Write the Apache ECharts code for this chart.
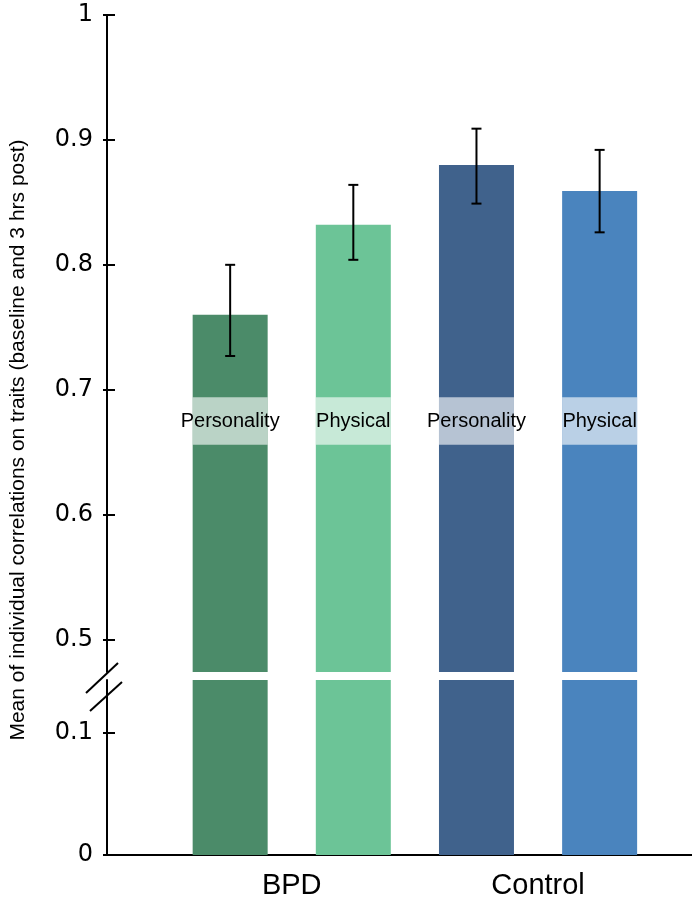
<!DOCTYPE html>
<html><head><meta charset="utf-8">
<script src="https://cdn.jsdelivr.net/npm/echarts@6/dist/echarts.min.js"></script>
<style>html,body{margin:0;padding:0;background:#fff}#c{width:692px;height:906px}</style>
</head><body><div id="c"></div>
<script>
const barNames = ['BPD Personality', 'BPD Physical', 'Control Personality', 'Control Physical'];
const barLabels = ['Personality', 'Physical', 'Personality', 'Physical'];
const groupLabels = ['BPD', 'Control'];
const means = [0.760, 0.832, 0.880, 0.859];
const errLow = [0.727, 0.804, 0.849, 0.826];
const errHigh = [0.800, 0.864, 0.909, 0.892];
const upperTicks = [0.5, 0.6, 0.7, 0.8, 0.9, 1];
const lowerTicks = [0, 0.1];
const barColors = ['#4b8b69', '#6cc497', '#40628c', '#4a84be'];
const bandRange = [0.656, 0.694];

const chart = echarts.init(document.getElementById('c'), null, {renderer: 'canvas'});
const xPos = barNames.map((_, i) => i + 1);
const groupPos = [1.5, 3.5];
const barData = means.map((v, i) => ({value: [xPos[i], v], itemStyle: {color: barColors[i]}}));
const fmtY = v => String(Math.round(v * 10) / 10);
const axisLineStyle = {color: '#000', width: 2};

const xCommon = {type: 'value', min: 0, max: 4.75, splitLine: {show: false}, axisTick: {show: false}};
const yLabel = {formatter: fmtY, color: '#000', fontSize: 24, fontFamily: 'DejaVu Sans', margin: 14};

function yAxisPair(grid, min, max, ticks) {
  return [
    {gridIndex: grid, type: 'value', min: min, max: max, splitLine: {show: false},
      axisLine: {show: true, lineStyle: axisLineStyle},
      axisTick: {show: true, inside: true, length: 8, customValues: ticks, lineStyle: axisLineStyle},
      axisLabel: Object.assign({customValues: ticks}, yLabel)},
    {gridIndex: grid, type: 'value', min: min, max: max, position: 'left', splitLine: {show: false},
      axisLine: {show: false},
      axisTick: {show: true, inside: false, length: 4, customValues: ticks, lineStyle: axisLineStyle},
      axisLabel: {show: false}}
  ];
}

chart.setOption({
  animation: false,
  grid: [
    {left: 107, right: 0, top: 15, height: 657},
    {left: 107, right: 0, top: 680, height: 175}
  ],
  xAxis: [
    Object.assign({gridIndex: 0, axisLine: {show: false}, axisLabel: {show: false}}, xCommon),
    Object.assign({gridIndex: 1, axisLine: {show: true, lineStyle: axisLineStyle},
      axisLabel: {customValues: groupPos, margin: 16, color: '#000', fontSize: 29, fontFamily: 'Liberation Sans, Arial',
        formatter: v => { const k = groupPos.findIndex(p => Math.abs(p - v) < 1e-6); return k >= 0 ? groupLabels[k] : ''; }}}, xCommon)
  ],
  yAxis: yAxisPair(0, 0.474, 1, upperTicks).concat(yAxisPair(1, 0, 0.1434, lowerTicks)),
  series: [
    {type: 'bar', xAxisIndex: 0, yAxisIndex: 0, barWidth: 75, clip: true, data: barData, z: 2},
    {type: 'bar', xAxisIndex: 1, yAxisIndex: 2, barWidth: 75, clip: true, data: barData, z: 2},
    {type: 'custom', xAxisIndex: 0, yAxisIndex: 0, z: 3,
      data: barLabels.map((t, i) => [xPos[i], bandRange[0], bandRange[1]]),
      renderItem: (params, api) => {
        const p1 = api.coord([api.value(0), api.value(2)]);
        const p0 = api.coord([api.value(0), api.value(1)]);
        const w = 75;
        return {type: 'group', children: [
          {type: 'rect', shape: {x: p1[0] - w / 2, y: p1[1], width: w, height: p0[1] - p1[1]},
            style: {fill: 'rgba(255,255,255,0.62)'}},
          {type: 'text', x: p1[0], y: (p0[1] + p1[1]) / 2 + 1,
            style: {text: barLabels[params.dataIndex], fill: '#000', font: '20px "Liberation Sans", Arial', align: 'center', verticalAlign: 'middle'}}
        ]};
      }},
    {type: 'custom', xAxisIndex: 0, yAxisIndex: 0, z: 4,
      data: means.map((m, i) => [xPos[i], errLow[i], errHigh[i]]),
      renderItem: (params, api) => {
        const lo = api.coord([api.value(0), api.value(1)]);
        const hi = api.coord([api.value(0), api.value(2)]);
        const cw = 5;
        const st = {stroke: '#000', lineWidth: 2};
        return {type: 'group', children: [
          {type: 'line', shape: {x1: lo[0], y1: lo[1], x2: hi[0], y2: hi[1]}, style: st},
          {type: 'line', shape: {x1: hi[0] - cw, y1: hi[1], x2: hi[0] + cw, y2: hi[1]}, style: st},
          {type: 'line', shape: {x1: lo[0] - cw, y1: lo[1], x2: lo[0] + cw, y2: lo[1]}, style: st}
        ]};
      }}
  ],
  graphic: [
    {type: 'line', shape: {x1: 86, y1: 693, x2: 118, y2: 663}, style: {stroke: '#000', lineWidth: 2}},
    {type: 'line', shape: {x1: 90, y1: 711, x2: 122, y2: 682}, style: {stroke: '#000', lineWidth: 2}},
    {type: 'text', x: 18, y: 440, rotation: Math.PI / 2,
      style: {text: 'Mean of individual correlations on traits (baseline and 3 hrs post)', fill: '#000',
        font: '21px "Liberation Sans", Arial', align: 'center', verticalAlign: 'middle'}}
  ]
});
</script></body></html>
